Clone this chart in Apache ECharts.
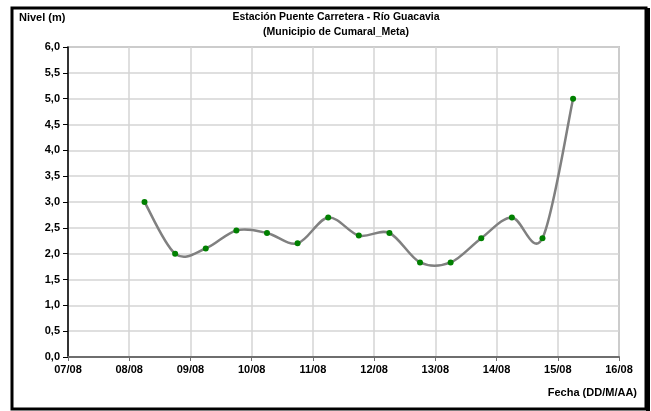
<!DOCTYPE html>
<html>
<head>
<meta charset="utf-8">
<script src="https://cdn.jsdelivr.net/npm/echarts@6/dist/echarts.min.js"></script>
<style>html,body{margin:0;padding:0;background:#fff}#c{width:651px;height:411px}</style>
</head>
<body>
<div id="c"></div>
<script>
// Data
const fechas = ['08/08 06:00','08/08 18:00','09/08 06:00','09/08 18:00','10/08 06:00','10/08 18:00',
  '11/08 06:00','11/08 18:00','12/08 06:00','12/08 18:00','13/08 06:00','13/08 18:00',
  '14/08 06:00','14/08 18:00','15/08 06:00'];
const niveles = [3.0, 2.0, 2.1, 2.45, 2.4, 2.2, 2.7, 2.35, 2.4, 1.83, 1.83, 2.3, 2.7, 2.3, 5.0];
const xTickLabels = ['07/08','08/08','09/08','10/08','11/08','12/08','13/08','14/08','15/08','16/08'];
const titulo = 'Estación Puente Carretera - Río Guacavia';
const subtitulo = '(Municipio de Cumaral_Meta)';
const yTitulo = 'Nivel (m)';
const xTitulo = 'Fecha (DD/M/AA)';

const startDay = 7;
function toDays(s) {
  const [d, t] = s.split(' ');
  const day = parseInt(d.split('/')[0], 10);
  const [h, m] = t.split(':').map(Number);
  return day - startDay + (h + m / 60) / 24;
}
const seriesData = fechas.map((f, i) => [toDays(f), niveles[i]]);

// Smoothed curve (Excel-like Catmull-Rom) drawn through the data points via the axis scales
function renderCurve(params, api) {
  if (params.dataIndex !== 0) return null;
  const p = seriesData.map(d => api.coord(d));
  let path = 'M' + p[0][0] + ' ' + p[0][1];
  for (let i = 0; i < p.length - 1; i++) {
    const p0 = p[i - 1] || p[i];
    const p1 = p[i];
    const p2 = p[i + 1];
    const p3 = p[i + 2] || p[i + 1];
    const c1 = [p1[0] + (p2[0] - p0[0]) / 6, p1[1] + (p2[1] - p0[1]) / 6];
    const c2 = [p2[0] - (p3[0] - p1[0]) / 6, p2[1] - (p3[1] - p1[1]) / 6];
    path += ' C' + c1[0] + ' ' + c1[1] + ' ' + c2[0] + ' ' + c2[1] + ' ' + p2[0] + ' ' + p2[1];
  }
  return {
    type: 'path',
    shape: {pathData: path},
    style: {fill: 'none', stroke: '#808080', lineWidth: 2.5}
  };
}

const font = '"Liberation Sans", Arial, sans-serif';
const chart = echarts.init(document.getElementById('c'), null, {renderer: 'canvas'});
chart.setOption({
  animation: false,
  backgroundColor: '#fff',
  grid: {left: 68, right: 32, top: 47, bottom: 54, show: true, borderColor: '#9a9a9a', borderWidth: 1.5, backgroundColor: 'transparent'},
  xAxis: {
    type: 'value', min: 0, max: 9, interval: 1,
    axisLine: {show: true, onZero: false, lineStyle: {color: '#6e6e6e', width: 2}},
    axisTick: {show: true, length: 4, lineStyle: {color: '#6e6e6e', width: 1}},
    splitLine: {show: true, lineStyle: {color: '#d4d4d4', width: 1.5}},
    axisLabel: {formatter: v => xTickLabels[Math.round(v)] || '', color: '#000', fontWeight: 'bold', fontSize: 11, fontFamily: font, margin: 7}
  },
  yAxis: {
    type: 'value', min: 0, max: 6, interval: 0.5,
    axisLine: {show: true, lineStyle: {color: '#000', width: 1.5}},
    axisTick: {show: true, length: 5, lineStyle: {color: '#000', width: 1}},
    splitLine: {show: true, lineStyle: {color: '#d4d4d4', width: 1.5}},
    axisLabel: {formatter: v => v.toFixed(1).replace('.', ','), color: '#000', fontWeight: 'bold', fontSize: 11, fontFamily: font, margin: 8}
  },
  series: [
    {
      type: 'custom',
      data: seriesData,
      renderItem: renderCurve,
      clip: true,
      z: 4,
      silent: true
    },
    {
      type: 'scatter',
      data: seriesData,
      symbol: 'circle',
      symbolSize: 6,
      itemStyle: {color: '#008000', opacity: 1},
      z: 5
    }
  ],
  graphic: [
    {type: 'rect', shape: {x: 12, y: 8, width: 634, height: 401}, style: {fill: 'none', stroke: '#000', lineWidth: 3}, silent: true},
    {type: 'rect', shape: {x: 646, y: 8, width: 4, height: 403}, style: {fill: '#000'}, silent: true},
    {type: 'text', x: 19, y: 12, style: {text: yTitulo, font: 'bold 11px ' + font, fill: '#000'}},
    {type: 'text', x: 336, y: 12, style: {text: titulo, font: 'bold 10.5px ' + font, fill: '#000', textAlign: 'center'}},
    {type: 'text', x: 336, y: 27, style: {text: subtitulo, font: 'bold 10.5px ' + font, fill: '#000', textAlign: 'center'}},
    {type: 'text', x: 637, y: 387, style: {text: xTitulo, font: 'bold 11px ' + font, fill: '#000', textAlign: 'right'}}
  ]
});
</script>
</body>
</html>
